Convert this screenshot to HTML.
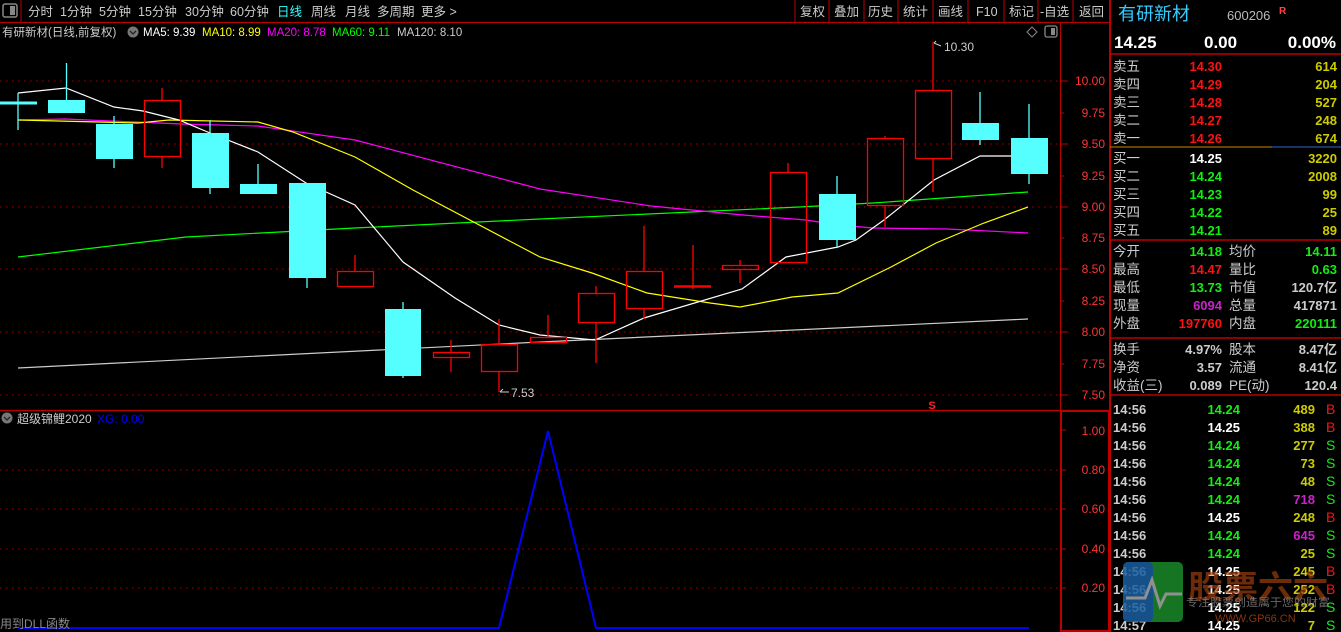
<!DOCTYPE html>
<html><head><meta charset="utf-8"><style>
html,body{margin:0;padding:0;background:#000;}
svg{display:block}
text{font-family:"Liberation Sans","Noto Sans CJK SC",sans-serif;}
</style></head><body>
<svg width="1341" height="632" viewBox="0 0 1341 632" xmlns="http://www.w3.org/2000/svg">
<rect width="1341" height="632" fill="#000"/>
<rect x="3" y="4" width="14" height="13" rx="2" fill="none" stroke="#888" stroke-width="1.5"/>
<rect x="10" y="6" width="5" height="9" fill="#888"/>
<line x1="21" y1="0" x2="21" y2="22" stroke="#b00" stroke-width="1"/>
<line x1="0" y1="22.5" x2="1110" y2="22.5" stroke="#b00" stroke-width="1"/>
<g font-size="12.5" fill="#ccc">
<text x="28" y="16">分时</text><text x="60" y="16">1分钟</text><text x="99" y="16">5分钟</text>
<text x="138" y="16">15分钟</text><text x="185" y="16">30分钟</text><text x="230" y="16">60分钟</text>
<text x="277" y="16" fill="#3ff">日线</text><text x="311" y="16">周线</text><text x="345" y="16">月线</text>
<text x="377" y="16">多周期</text><text x="421" y="16">更多 &gt;</text>
</g>
<g stroke="#b00" stroke-width="1">
<line x1="795" y1="0" x2="795" y2="22"/><line x1="829" y1="0" x2="829" y2="22"/><line x1="864" y1="0" x2="864" y2="22"/>
<line x1="898" y1="0" x2="898" y2="22"/><line x1="933" y1="0" x2="933" y2="22"/><line x1="968" y1="0" x2="968" y2="22"/>
<line x1="1004" y1="0" x2="1004" y2="22"/><line x1="1038" y1="0" x2="1038" y2="22"/><line x1="1073" y1="0" x2="1073" y2="22"/>
</g>
<g font-size="12.5" fill="#ccc">
<text x="800" y="16">复权</text><text x="834" y="16">叠加</text><text x="868" y="16">历史</text><text x="903" y="16">统计</text>
<text x="938" y="16">画线</text><text x="976" y="16">F10</text><text x="1009" y="16">标记</text><text x="1040" y="16">-自选</text><text x="1079" y="16">返回</text>
</g>
<g font-size="11.5">
<text x="2" y="36" fill="#ccc">有研新材(日线,前复权)</text>
<circle cx="133" cy="32" r="5.5" fill="#777"/><path d="M130 31 L133 34 L136 31" stroke="#222" stroke-width="1.3" fill="none"/>
<text x="143" y="36" fill="#fff">MA5: 9.39</text>
<text x="202" y="36" fill="#ff0">MA10: 8.99</text>
<text x="267" y="36" fill="#f0f">MA20: 8.78</text>
<text x="332" y="36" fill="#0f0">MA60: 9.11</text>
<text x="397" y="36" fill="#ccc">MA120: 8.10</text>
</g>
<path d="M1032 27 L1037 32 L1032 37 L1027 32 Z" fill="none" stroke="#888"/>
<rect x="1045" y="26" width="12" height="11" rx="2" fill="none" stroke="#888" stroke-width="1.3"/><rect x="1051" y="28" width="4" height="7" fill="#888"/>
<line x1="1060.5" y1="22" x2="1060.5" y2="632" stroke="#b00"/>
<line x1="1110" y1="0" x2="1110" y2="632" stroke="#b00" stroke-width="2"/>
<line x1="0" y1="410.5" x2="1110" y2="410.5" stroke="#b00" stroke-width="1.2"/>
<rect x="1061" y="411" width="48" height="220" fill="none" stroke="#b00" stroke-width="2"/>
<g stroke="#a00" stroke-width="1" stroke-dasharray="1.5,4.5">
<line x1="0" y1="81" x2="1060" y2="81"/><line x1="0" y1="144" x2="1060" y2="144"/><line x1="0" y1="207" x2="1060" y2="207"/>
<line x1="0" y1="269" x2="1060" y2="269"/><line x1="0" y1="332" x2="1060" y2="332"/><line x1="0" y1="395" x2="1060" y2="395"/>
<line x1="0" y1="470" x2="1060" y2="470"/><line x1="0" y1="509" x2="1060" y2="509"/><line x1="0" y1="549" x2="1060" y2="549"/><line x1="0" y1="588" x2="1060" y2="588"/>
</g>
<g stroke="#b00">
<line x1="1060" y1="81" x2="1068" y2="81"/><line x1="1060" y1="113" x2="1064" y2="113"/><line x1="1060" y1="144" x2="1068" y2="144"/><line x1="1060" y1="176" x2="1064" y2="176"/>
<line x1="1060" y1="207" x2="1068" y2="207"/><line x1="1060" y1="238" x2="1064" y2="238"/><line x1="1060" y1="269" x2="1068" y2="269"/><line x1="1060" y1="301" x2="1064" y2="301"/>
<line x1="1060" y1="332" x2="1068" y2="332"/><line x1="1060" y1="364" x2="1064" y2="364"/><line x1="1060" y1="395" x2="1068" y2="395"/>
<line x1="1061" y1="430" x2="1066" y2="430"/><line x1="1061" y1="470" x2="1066" y2="470"/><line x1="1061" y1="509" x2="1066" y2="509"/><line x1="1061" y1="549" x2="1066" y2="549"/><line x1="1061" y1="588" x2="1066" y2="588"/>
</g>
<g font-size="12" fill="#f33" text-anchor="end">
<text x="1105" y="85">10.00</text><text x="1105" y="117">9.75</text><text x="1105" y="148">9.50</text><text x="1105" y="180">9.25</text>
<text x="1105" y="211">9.00</text><text x="1105" y="242">8.75</text><text x="1105" y="273">8.50</text><text x="1105" y="305">8.25</text>
<text x="1105" y="336">8.00</text><text x="1105" y="368">7.75</text><text x="1105" y="399">7.50</text>
<text x="1105" y="435">1.00</text><text x="1105" y="474">0.80</text><text x="1105" y="513">0.60</text><text x="1105" y="553">0.40</text><text x="1105" y="592">0.20</text>
</g>
<g fill="none" stroke-width="1.2">
<polyline stroke="#ccc" points="18,368 540,342 1028,319"/>
<polyline stroke="#0f0" points="18,257 186,237 355,228 540,219 799,207 873,203 1028,192"/>
<polyline stroke="#f0f" points="18,120 65,119 182,124 258,126 355,140 540,189 651,206 743,215 806,220 838,225 873,228 947,229 1028,233"/>
<polyline stroke="#ff0" points="18,120 138,123 169,120 258,122 293,132 355,157 413,190 540,257 592,273 647,293 710,303 740,307 792,297 838,293 891,267 936,243 984,223 1028,207"/>
<polyline stroke="#fff" points="18,93 66,88 114,107 143,111 179,120 210,133 258,152 306,183 355,205 403,262 455,298 499,325 540,335 595,340 644,318 742,289 786,257 838,247 856,240 884,220 934,180 980,156 1028,156"/>
</g>
<g fill="#5ff" stroke="#5ff" stroke-width="1.3">
<line x1="18" y1="93" x2="18" y2="130"/><rect x="0" y="101.5" width="37" height="3" stroke="none"/>
<line x1="66.5" y1="63" x2="66.5" y2="113"/><rect x="48" y="100" width="37" height="13" stroke="none"/>
<line x1="114" y1="116" x2="114" y2="168"/><rect x="96" y="124" width="37" height="35" stroke="none"/>
<line x1="210" y1="120" x2="210" y2="194"/><rect x="192" y="133" width="37" height="55" stroke="none"/>
<line x1="258" y1="164" x2="258" y2="184"/><rect x="240" y="184" width="37" height="10" stroke="none"/>
<line x1="307" y1="183" x2="307" y2="288"/><rect x="289" y="183" width="37" height="95" stroke="none"/>
<line x1="403" y1="302" x2="403" y2="378"/><rect x="385" y="309" width="36" height="67" stroke="none"/>
<line x1="837" y1="176" x2="837" y2="247"/><rect x="819" y="194" width="37" height="46" stroke="none"/>
<line x1="980" y1="92" x2="980" y2="145"/><rect x="962" y="123" width="37" height="17" stroke="none"/>
<line x1="1029" y1="104" x2="1029" y2="184"/><rect x="1011" y="138" width="37" height="36" stroke="none"/>
</g>
<g fill="none" stroke="#f00" stroke-width="1.3">
<line x1="162" y1="88" x2="162" y2="100"/><line x1="162" y1="157" x2="162" y2="168"/><rect x="144.5" y="100.5" width="36" height="56"/>
<line x1="355" y1="255" x2="355" y2="271"/><rect x="337.5" y="271.5" width="36" height="15"/>
<line x1="451" y1="340" x2="451" y2="352"/><line x1="451" y1="358" x2="451" y2="372"/><rect x="433.5" y="352.5" width="36" height="5"/>
<line x1="499" y1="319" x2="499" y2="344"/><line x1="499" y1="372" x2="499" y2="392"/><rect x="481.5" y="344.5" width="36" height="27"/>
<line x1="548" y1="315" x2="548" y2="337"/><rect x="530.5" y="337.5" width="36" height="5"/>
<line x1="596" y1="286" x2="596" y2="293"/><line x1="596" y1="323" x2="596" y2="363"/><rect x="578.5" y="293.5" width="36" height="29"/>
<line x1="644" y1="226" x2="644" y2="271"/><line x1="644" y1="309" x2="644" y2="319"/><rect x="626.5" y="271.5" width="36" height="37"/>
<line x1="693" y1="245" x2="693" y2="289"/><line x1="674" y1="286.5" x2="711" y2="286.5" stroke-width="2.5"/>
<line x1="740" y1="260" x2="740" y2="265"/><line x1="740" y1="269" x2="740" y2="283"/><rect x="722.5" y="265.5" width="36" height="4"/>
<line x1="788" y1="163" x2="788" y2="172"/><rect x="770.5" y="172.5" width="36" height="90"/>
<line x1="885" y1="136" x2="885" y2="138"/><line x1="885" y1="206" x2="885" y2="227"/><rect x="867.5" y="138.5" width="36" height="67"/>
<line x1="933" y1="42" x2="933" y2="90"/><line x1="933" y1="159" x2="933" y2="192"/><rect x="915.5" y="90.5" width="36" height="68"/>
</g>
<text x="944" y="51" font-size="12" fill="#ccc">10.30</text><path d="M941 46 L934 43 M934 43 L936 41" stroke="#ccc" fill="none"/>
<text x="511" y="397" font-size="12" fill="#ccc">7.53</text><path d="M500 392 L509 392 M500 392 L503 389" stroke="#ccc" fill="none"/>
<text x="932" y="409" font-size="11" fill="#f22" text-anchor="middle" font-weight="bold">S</text>
<circle cx="7" cy="418" r="5.5" fill="#777"/><path d="M4 417 L7 420 L10 417" stroke="#222" stroke-width="1.3" fill="none"/>
<text x="17" y="423" font-size="12" fill="#ccc">超级锦鲤2020</text>
<text x="97" y="423" font-size="12" fill="#00f">XG: 0.00</text>
<polyline fill="none" stroke="#00f" stroke-width="2" points="18,628 499,628 548,431 596,628 1029,628"/>
<text x="0" y="628" font-size="12" fill="#888">用到DLL函数</text>
<text x="1118" y="20" font-size="18" fill="#3cf">有研新材</text>
<text x="1227" y="20" font-size="13" fill="#bbb">600206</text>
<text x="1279" y="14" font-size="10" fill="#f44" font-weight="bold">R</text>
<g font-size="17" font-weight="bold" fill="#fff">
<text x="1114" y="48">14.25</text><text x="1204" y="48">0.00</text><text x="1336" y="48" text-anchor="end">0.00%</text>
</g>
<line x1="1110" y1="54" x2="1341" y2="54" stroke="#b00" stroke-width="1.5"/>
<line x1="1110" y1="147" x2="1272" y2="147" stroke="#c80"/><line x1="1272" y1="147" x2="1341" y2="147" stroke="#36c"/>
<line x1="1110" y1="240" x2="1341" y2="240" stroke="#b00" stroke-width="1.5"/>
<line x1="1110" y1="338" x2="1341" y2="338" stroke="#b00" stroke-width="1.5"/>
<line x1="1110" y1="395" x2="1341" y2="395" stroke="#b00" stroke-width="1.5"/>
<g font-size="13.5">
<g fill="#ccc"><text x="1113" y="71">卖五</text><text x="1113" y="89">卖四</text><text x="1113" y="107">卖三</text><text x="1113" y="125">卖二</text><text x="1113" y="143">卖一</text>
<text x="1113" y="163">买一</text><text x="1113" y="181">买二</text><text x="1113" y="199">买三</text><text x="1113" y="217">买四</text><text x="1113" y="235">买五</text>
<text x="1113" y="256">今开</text><text x="1113" y="274">最高</text><text x="1113" y="292">最低</text><text x="1113" y="310">现量</text><text x="1113" y="328">外盘</text>
<text x="1229" y="256">均价</text><text x="1229" y="274">量比</text><text x="1229" y="292">市值</text><text x="1229" y="310">总量</text><text x="1229" y="328">内盘</text>
<text x="1113" y="354">换手</text><text x="1113" y="372">净资</text><text x="1113" y="390">收益(三)</text>
<text x="1229" y="354">股本</text><text x="1229" y="372">流通</text><text x="1229" y="390">PE(动)</text></g>
</g>
<g font-size="13" font-weight="bold" text-anchor="end">
<g fill="#f11"><text x="1222" y="71">14.30</text><text x="1222" y="89">14.29</text><text x="1222" y="107">14.28</text><text x="1222" y="125">14.27</text><text x="1222" y="143">14.26</text></g>
<g fill="#cc0"><text x="1337" y="71">614</text><text x="1337" y="89">204</text><text x="1337" y="107">527</text><text x="1337" y="125">248</text><text x="1337" y="143">674</text>
<text x="1337" y="163">3220</text><text x="1337" y="181">2008</text><text x="1337" y="199">99</text><text x="1337" y="217">25</text><text x="1337" y="235">89</text></g>
<text x="1222" y="163" fill="#fff">14.25</text>
<g fill="#1e1"><text x="1222" y="181">14.24</text><text x="1222" y="199">14.23</text><text x="1222" y="217">14.22</text><text x="1222" y="235">14.21</text>
<text x="1222" y="256">14.18</text><text x="1337" y="256">14.11</text><text x="1222" y="292">13.73</text><text x="1337" y="274">0.63</text><text x="1337" y="328">220111</text></g>
<text x="1222" y="274" fill="#f11">14.47</text><text x="1222" y="310" fill="#c2c">6094</text><text x="1222" y="328" fill="#f11">197760</text>
<g fill="#ccc"><text x="1337" y="292">120.7亿</text><text x="1337" y="310">417871</text><text x="1222" y="354">4.97%</text><text x="1222" y="372">3.57</text><text x="1222" y="390">0.089</text>
<text x="1337" y="354">8.47亿</text><text x="1337" y="372">8.41亿</text><text x="1337" y="390">120.4</text></g>
</g>
<g font-size="13" font-weight="bold">
<g fill="#ccc"><text x="1113" y="414">14:56</text><text x="1113" y="432">14:56</text><text x="1113" y="450">14:56</text><text x="1113" y="468">14:56</text><text x="1113" y="486">14:56</text><text x="1113" y="504">14:56</text><text x="1113" y="522">14:56</text><text x="1113" y="540">14:56</text><text x="1113" y="558">14:56</text><text x="1113" y="576">14:56</text><text x="1113" y="594">14:56</text><text x="1113" y="612">14:56</text><text x="1113" y="630">14:57</text></g>
<g text-anchor="end">
<text x="1240" y="414" fill="#1e1">14.24</text><text x="1240" y="432" fill="#fff">14.25</text><text x="1240" y="450" fill="#1e1">14.24</text><text x="1240" y="468" fill="#1e1">14.24</text><text x="1240" y="486" fill="#1e1">14.24</text><text x="1240" y="504" fill="#1e1">14.24</text><text x="1240" y="522" fill="#fff">14.25</text><text x="1240" y="540" fill="#1e1">14.24</text><text x="1240" y="558" fill="#1e1">14.24</text><text x="1240" y="576" fill="#fff">14.25</text><text x="1240" y="594" fill="#fff">14.25</text><text x="1240" y="612" fill="#fff">14.25</text><text x="1240" y="630" fill="#fff">14.25</text>
<text x="1315" y="414" fill="#cc0">489</text><text x="1315" y="432" fill="#cc0">388</text><text x="1315" y="450" fill="#cc0">277</text><text x="1315" y="468" fill="#cc0">73</text><text x="1315" y="486" fill="#cc0">48</text><text x="1315" y="504" fill="#c2c">718</text><text x="1315" y="522" fill="#cc0">248</text><text x="1315" y="540" fill="#c2c">645</text><text x="1315" y="558" fill="#cc0">25</text><text x="1315" y="576" fill="#cc0">245</text><text x="1315" y="594" fill="#cc0">252</text><text x="1315" y="612" fill="#cc0">122</text><text x="1315" y="630" fill="#cc0">7</text>
</g>
<g font-weight="normal" font-size="14"><text x="1326" y="414" fill="#f11">B</text><text x="1326" y="432" fill="#f11">B</text><text x="1326" y="450" fill="#1e1">S</text><text x="1326" y="468" fill="#1e1">S</text><text x="1326" y="486" fill="#1e1">S</text><text x="1326" y="504" fill="#1e1">S</text><text x="1326" y="522" fill="#f11">B</text><text x="1326" y="540" fill="#1e1">S</text><text x="1326" y="558" fill="#1e1">S</text><text x="1326" y="576" fill="#f11">B</text><text x="1326" y="594" fill="#f11">B</text><text x="1326" y="612" fill="#1e1">S</text><text x="1326" y="630" fill="#1e1">S</text></g>
</g>
<g opacity="0.85">
<rect x="1123" y="562" width="60" height="60" rx="5" fill="#1a8a2a"/>
<rect x="1123" y="562" width="30" height="60" rx="5" fill="#1a5fa0"/>
<polyline points="1126,598 1145,598 1152,580 1160,606 1166,594 1182,594" fill="none" stroke="#aaa" stroke-width="3"/>
<text x="1188" y="598" font-size="32" font-weight="bold" fill="#a04010" opacity="0.8" textLength="140" lengthAdjust="spacingAndGlyphs">股票六六</text>
<text x="1186" y="606" font-size="11" fill="#999" opacity="0.8" textLength="144" lengthAdjust="spacingAndGlyphs">专注股票创造属于您的财富</text>
<text x="1215" y="622" font-size="11" fill="#a04010">WWW.GP66.CN</text>
</g>
</svg>
</body></html>
